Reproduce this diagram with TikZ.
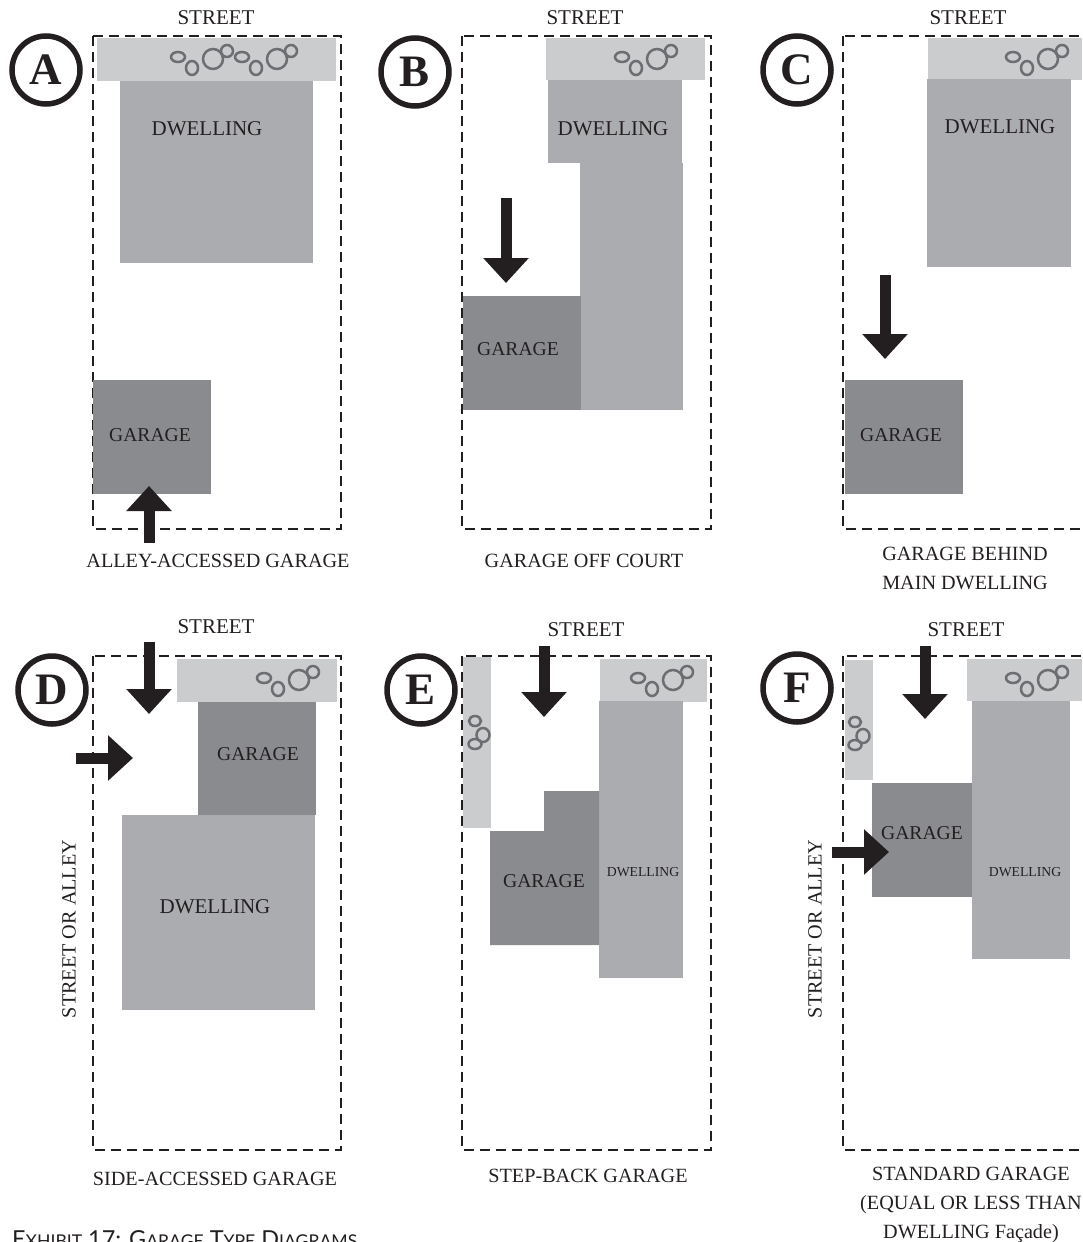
\documentclass[tikz,border=0pt]{standalone}
\usepackage{fontspec}
\setmainfont{Liberation Serif}
\newfontfamily\exhibitfont{Lato}
\usetikzlibrary{arrows.meta,positioning}

\definecolor{inkdark}{HTML}{231F20}
\definecolor{streetgray}{HTML}{CBCCCE}
\definecolor{dwellgray}{HTML}{ABACAF}
\definecolor{garagegray}{HTML}{8A8B8E}
\definecolor{treegray}{HTML}{6D6E71}

\newcommand{\lbl}{\fontsize{20.2}{29}\selectfont}
\newcommand{\smc}[1]{{\fontsize{17.6}{18}\selectfont #1}}

\tikzset{
	lot/.style={draw=inkdark,line width=2.8pt,dash pattern=on 10pt off 6pt},
	streetfill/.style={fill=streetgray},
	dwellfill/.style={fill=dwellgray},
	garagefill/.style={fill=garagegray},
	blockarrow/.style={draw=inkdark,line width=11pt,-{Triangle[length=25pt,width=44pt]}},
	tag/.style={text=inkdark,inner sep=0pt,align=center,yshift=-1pt,font=\lbl},
	bigtag/.style={tag,font=\fontsize{21}{29}\selectfont},
	gartag/.style={tag,font=\fontsize{19.6}{29}\selectfont},
	smalltag/.style={tag,font=\fontsize{13.7}{18}\selectfont},
	letter/.style={circle,draw=inkdark,line width=5.5pt,fill=white,minimum size=68pt,inner sep=0pt,text=inkdark,font=\fontsize{45}{45}\selectfont\bfseries},
	tree/.style={draw=treegray,line width=2.5pt},
	pics/clump/.style={code={
		\draw[tree] (0,0) ellipse (7pt and 5pt);
		\draw[tree] (14,11) ellipse (6pt and 7pt);
		\draw[tree] (35,2) circle (10pt);
		\draw[tree] (49,-6) circle (6pt);
	}},
	pics/sideclump/.style={code={
		\draw[tree] (0,0) ellipse (6pt and 5pt);
		\draw[tree] (8,14) ellipse (6.5pt and 7pt);
		\draw[tree] (0,23) ellipse (6.5pt and 5pt);
	}}
}

\begin{document}
\begin{tikzpicture}[x=1pt,y=-1pt]
	\useasboundingbox (0,0) rectangle (1082,1242);
	\clip (0,0) rectangle (1082,1242);

	% A
	\draw[lot] (93,36) rectangle (341,529);
	\fill[streetfill] (97,38) rectangle (336,81);
	\fill[dwellfill] (120,81) rectangle (313,263);
	\fill[garagefill] (93,380) rectangle (211,494);
	\pic at (178,57) {clump};
	\pic at (242,57) {clump};
	\node[letter] (let_a) at (46,70) {A};
	\node[bigtag] (st_a) at (216,17) {STREET};
	\node[bigtag] (dw_a) at (207,128) {DWELLING};
	\node[gartag] (ga_a) at (150,434) {GARAGE};
	\node[tag] (cap_a) at (218,560) {ALLEY-ACCESSED GARAGE};
	\coordinate (ar_a1) at (149,543);
	\coordinate (ar_a2) at (149,486);
	\draw[blockarrow] (ar_a1) -- (ar_a2);

	% B
	\draw[lot] (462,36) rectangle (711,529);
	\fill[streetfill] (546,38) rectangle (705,80);
	\fill[dwellfill] (548,80) rectangle (682,163);
	\fill[dwellfill] (580,163) rectangle (683,410);
	\fill[garagefill] (463,296) rectangle (581,410);
	\pic at (622,57) {clump};
	\node[letter] (let_b) at (415,72) {B};
	\node[bigtag] (st_b) at (585,17) {STREET};
	\node[bigtag] (dw_b) at (613,128) {DWELLING};
	\node[gartag] (ga_b) at (518,348) {GARAGE};
	\node[tag] (cap_b) at (584,560) {GARAGE OFF COURT};
	\coordinate (ar_b1) at (506,198);
	\coordinate (ar_b2) at (506,283);
	\draw[blockarrow] (ar_b1) -- (ar_b2);

	% C
	\draw[lot] (843,36) rectangle (1092,529);
	\fill[streetfill] (928,38) rectangle (1082,80);
	\fill[dwellfill] (927,79) rectangle (1071,267);
	\fill[garagefill] (845,380) rectangle (963,494);
	\pic at (1013,57) {clump};
	\node[letter] (let_c) at (797,70) {C};
	\node[bigtag] (st_c) at (968,17) {STREET};
	\node[bigtag] (dw_c) at (1000,126) {DWELLING};
	\node[gartag] (ga_c) at (901,434) {GARAGE};
	\node[tag] (cap_c) at (965,567) {GARAGE BEHIND\\MAIN DWELLING};
	\coordinate (ar_c1) at (885,275);
	\coordinate (ar_c2) at (885,359);
	\draw[blockarrow] (ar_c1) -- (ar_c2);

	% D
	\draw[lot] (93,656) rectangle (341,1150);
	\fill[streetfill] (177,659) rectangle (337,702);
	\fill[garagefill] (198,702) rectangle (316,815);
	\fill[dwellfill] (122,815) rectangle (315,1010);
	\pic at (264,678) {clump};
	\node[letter] (let_d) at (52,690) {D};
	\node[bigtag] (st_d) at (216,626) {STREET};
	\node[gartag] (ga_d) at (258,753) {GARAGE};
	\node[bigtag] (dw_d) at (215,906) {DWELLING};
	\node[tag,rotate=90] (al_d) at (69,928) {STREET OR ALLEY};
	\node[tag] (cap_d) at (215,1178) {SIDE-ACCESSED GARAGE};
	\coordinate (ar_d1) at (149,642);
	\coordinate (ar_d2) at (149,714);
	\coordinate (ar_d3) at (76,758);
	\coordinate (ar_d4) at (133,758);
	\draw[blockarrow] (ar_d1) -- (ar_d2);
	\draw[blockarrow] (ar_d3) -- (ar_d4);

	% E
	\draw[lot] (462,656) rectangle (711,1150);
	\fill[streetfill] (600,659) rectangle (707,702);
	\fill[streetfill] (463,657) rectangle (491,828);
	\fill[dwellfill] (599,701) rectangle (683,978);
	\fill[garagefill] (490,831) -- (544,831) -- (544,791) -- (599,791) -- (599,945) -- (490,945) -- cycle;
	\pic at (638,678) {clump};
	\pic at (475,721) {sideclump};
	\node[letter] (let_e) at (421,690) {E};
	\node[bigtag] (st_e) at (586,629) {STREET};
	\node[gartag] (ga_e) at (544,880) {GARAGE};
	\node[smalltag] (dw_e) at (643,871) {DWELLING};
	\node[tag] (cap_e) at (588,1175) {STEP-BACK GARAGE};
	\coordinate (ar_e1) at (544,646);
	\coordinate (ar_e2) at (544,717);
	\draw[blockarrow] (ar_e1) -- (ar_e2);

	% F
	\draw[lot] (843,656) rectangle (1092,1150);
	\fill[streetfill] (967,659) rectangle (1082,701);
	\fill[streetfill] (845,660) rectangle (873,780);
	\fill[garagefill] (872,783) rectangle (972,897);
	\fill[dwellfill] (972,701) rectangle (1070,959);
	\pic at (1013,678) {clump};
	\pic at (855,722) {sideclump};
	\node[letter] (let_f) at (797,688) {F};
	\node[bigtag] (st_f) at (966,629) {STREET};
	\node[gartag] (ga_f) at (922,832) {GARAGE};
	\node[smalltag] (dw_f) at (1025,871) {DWELLING};
	\node[tag,rotate=90] (al_f) at (815,928) {STREET OR ALLEY};
	\node[tag] (cap_f) at (971,1204) {STANDARD GARAGE\\(EQUAL OR LESS THAN\\DWELLING Façade)};
	\coordinate (ar_f1) at (925,646);
	\coordinate (ar_f2) at (925,719);
	\coordinate (ar_f3) at (832,852);
	\coordinate (ar_f4) at (889,852);
	\draw[blockarrow] (ar_f1) -- (ar_f2);
	\draw[blockarrow] (ar_f3) -- (ar_f4);

	\node[anchor=base west,inner sep=0pt,text=inkdark] (exhibit) at (12,1247) {\exhibitfont\fontsize{23.4}{24}\selectfont E\smc{XHIBIT} 17: G\smc{ARAGE} T\smc{YPE} D\smc{IAGRAMS}};
\end{tikzpicture}
\end{document}
